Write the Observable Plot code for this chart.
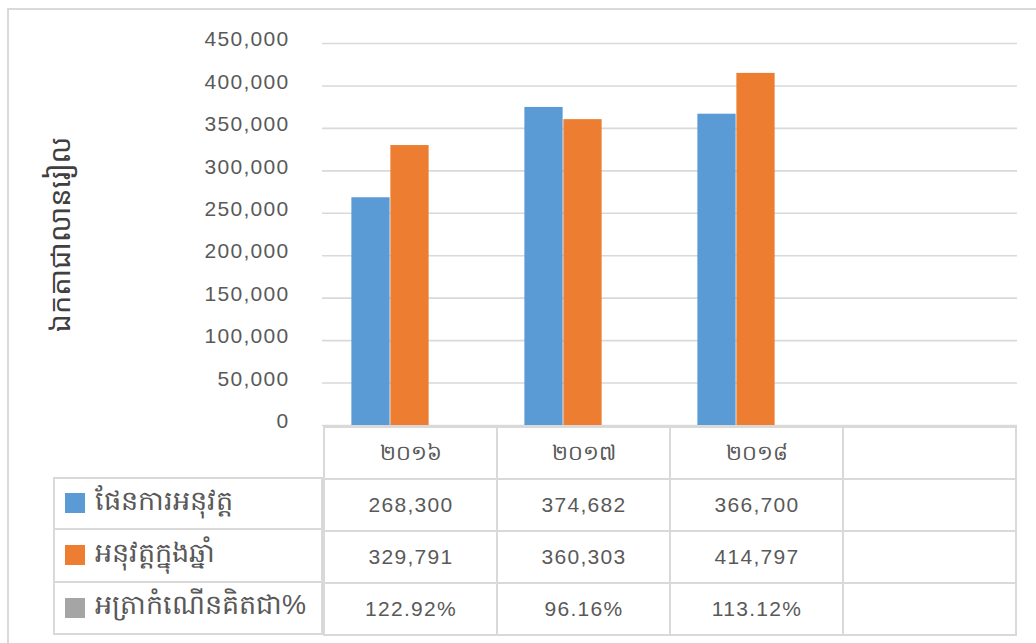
<!DOCTYPE html>
<html>
<head>
<meta charset="utf-8">
<script src="https://cdn.jsdelivr.net/npm/d3@7"></script>
<script src="https://cdn.jsdelivr.net/npm/@observablehq/plot@0.6"></script>
<style>
  html, body { margin: 0; padding: 0; background: #fff; overflow: hidden; }
  #wrap { position: relative; width: 1036px; height: 643px; overflow: hidden; background: #fff;
          font-family: "Liberation Sans", Arial, sans-serif; color: #595959; }
  #outer { position: absolute; left: 7px; top: 8px; width: 1200px; height: 800px;
           border: 2px solid #d9d9d9; box-sizing: border-box; }
  #chart { position: absolute; left: 0; top: 0; }
  #table { position: absolute; left: 0; top: 424px; }
  #legend { position: absolute; left: 53px; top: 477px; width: 270px; }
  .lrow { box-sizing: border-box; height: 52.75px; border: 2px solid #d9d9d9; border-top: none;
          display: flex; align-items: center; font-size: 27px; color: #595959; white-space: nowrap; }
  .lrow:first-child { border-top: 2px solid #d9d9d9; }
  .sw { width: 20px; height: 20px; margin-left: 10px; margin-right: 10px; flex: none; }
</style>
</head>
<body>
<div id="wrap">
  <div id="outer"></div>
  <div id="chart"></div>
  <div id="table"></div>
  <div id="legend"></div>
</div>
<script>
// ---- data ----
const categories = ["២០១៦", "២០១៧", "២០១៨", ""];
const seriesNames = ["ផែនការអនុវត្ត", "អនុវត្តក្នុងឆ្នាំ", "អត្រាកំណើនគិតជា%"];
const planValues = [268300, 374682, 366700];
const actualValues = [329791, 360303, 414797];
const growthLabels = ["122.92%", "96.16%", "113.12%"];
const seriesColors = ["#5B9BD5", "#ED7D31", "#A5A5A5"];
const yTicks = [0, 50000, 100000, 150000, 200000, 250000, 300000, 350000, 400000, 450000];
const yTitle = "ឯកតាជាលានរៀល";

// ---- layout ----
const W = 1036, ML = 322, MR = 19;
const bandW = (W - ML - MR) / categories.length;
const barW = 39;
// three slots per category (the third, growth %, is too small to see)
const slotInset = k => {
  const left = bandW / 2 - 1.5 * barW - 1 + k * barW;
  return {insetLeft: left, insetRight: bandW - left - barW};
};
const fmt = d3.format(",");

const planRows = planValues.map((v, i) => ({cat: categories[i], series: seriesNames[0], value: v}));
const actualRows = actualValues.map((v, i) => ({cat: categories[i], series: seriesNames[1], value: v}));

const chart = Plot.plot({
  width: W, height: 426,
  marginLeft: ML, marginRight: MR, marginTop: 43, marginBottom: 1,
  style: {fontFamily: "'Liberation Sans', Arial, sans-serif", color: "#595959", background: "transparent", overflow: "visible"},
  x: {domain: categories, padding: 0, axis: null},
  y: {domain: [0, 450000], axis: null},
  color: {domain: seriesNames, range: seriesColors},
  marks: [
    Plot.ruleY(yTicks, {stroke: "#d9d9d9", strokeWidth: 1.6, strokeOpacity: 1}),
    Plot.barY(planRows, {x: "cat", y: "value", fill: "series", ...slotInset(0)}),
    Plot.barY(actualRows, {x: "cat", y: "value", fill: "series", ...slotInset(1)}),
    Plot.axisY({ticks: yTicks, tickSize: 0, tickPadding: 33, tickFormat: fmt,
      fontSize: 21, fill: "#595959", dy: -4, label: null}),
    Plot.text([yTitle], {frameAnchor: "left", textAnchor: "middle", rotate: -90, dx: -262,
      fontSize: 29, fill: "#404040", fontFamily: "'Noto Sans Khmer', 'Khmer OS', sans-serif"})
  ]
});
document.getElementById("chart").appendChild(chart);

// ---- data table ----
const rowKeys = ["hdr", ...seriesNames];
const tableCells = [];
categories.forEach((c, i) => {
  tableCells.push({cat: c, row: "hdr", label: c, kind: "h"});
  tableCells.push({cat: c, row: seriesNames[0], label: i < planValues.length ? fmt(planValues[i]) : "", kind: "v"});
  tableCells.push({cat: c, row: seriesNames[1], label: i < actualValues.length ? fmt(actualValues[i]) : "", kind: "v"});
  tableCells.push({cat: c, row: seriesNames[2], label: i < growthLabels.length ? growthLabels[i] : "", kind: "v"});
});

const table = Plot.plot({
  width: W, height: 213,
  marginLeft: ML, marginRight: MR, marginTop: 1, marginBottom: 1,
  style: {fontFamily: "'Liberation Sans', Arial, sans-serif", color: "#595959", background: "transparent", overflow: "visible"},
  x: {domain: categories, padding: 0, axis: null},
  y: {domain: rowKeys, padding: 0, axis: null},
  marks: [
    Plot.cell(tableCells, {x: "cat", y: "row", fill: "white", stroke: "#d9d9d9", strokeWidth: 2}),
    Plot.text(tableCells.filter(d => d.kind === "h"), {x: "cat", y: "row", text: "label",
      fontSize: 21, fill: "#595959"}),
    Plot.text(tableCells.filter(d => d.kind === "v"), {x: "cat", y: "row", text: "label",
      fontSize: 21, fill: "#595959"})
  ]
});
document.getElementById("table").appendChild(table);

// numeric labels: slightly wider spacing like the original
d3.selectAll("#wrap svg text, #wrap svg text tspan").each(function() {
  const t = this.textContent;
  if (/^[0-9.,%]+$/.test(t)) this.style.letterSpacing = "1.3px";
});

// ---- legend column of the data table ----
const legend = d3.select("#legend");
seriesNames.forEach((name, i) => {
  const row = legend.append("div").attr("class", "lrow");
  row.append("div").attr("class", "sw").style("background", seriesColors[i]);
  row.append("span").text(name);
});
</script>
</body>
</html>
